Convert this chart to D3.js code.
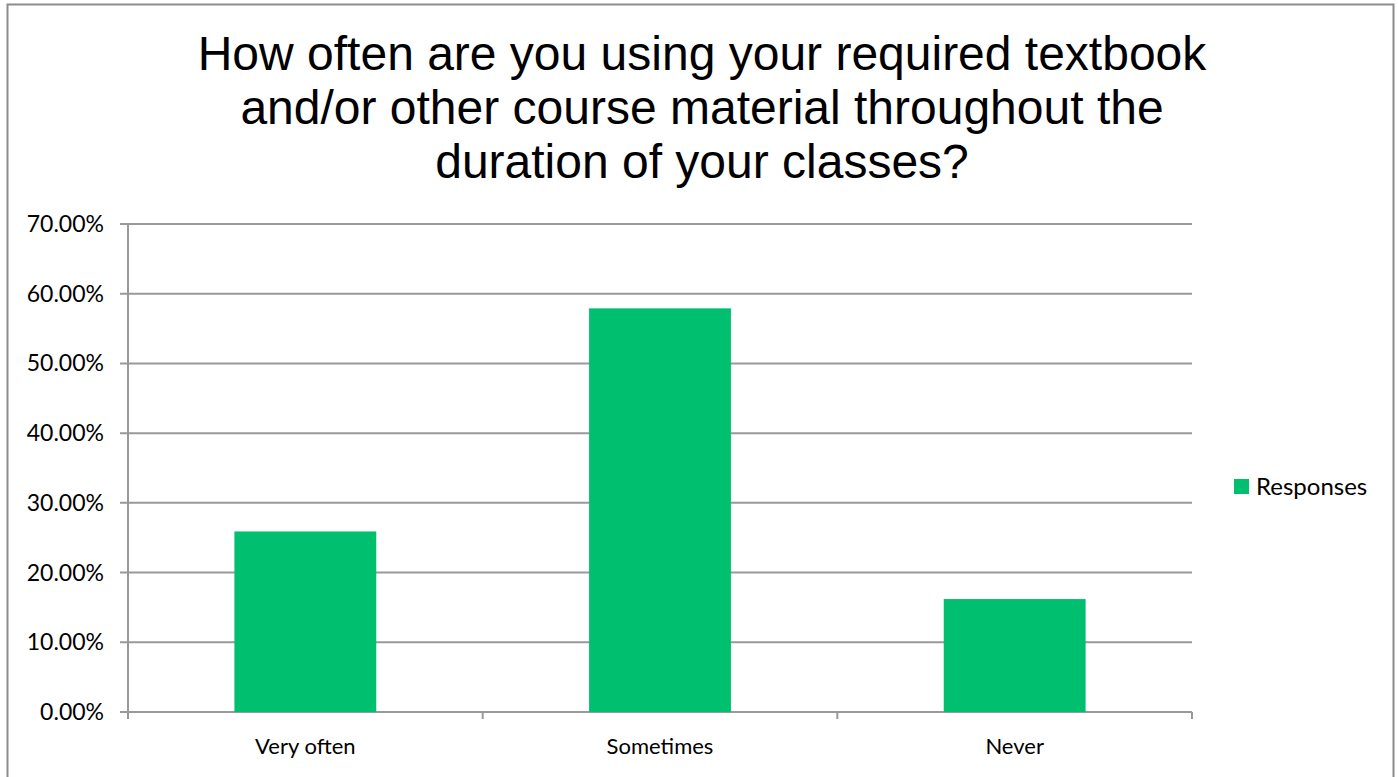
<!DOCTYPE html>
<html>
<head>
<meta charset="utf-8">
<script src="https://cdn.jsdelivr.net/npm/d3@7"></script>
<style>
  body { margin: 0; background: #fff; }
  svg { display: block; }
</style>
</head>
<body>
<svg id="chart" width="1398" height="777"></svg>
<script>
const categories = ["Very often", "Sometimes", "Never"];
const responses = [25.9, 57.9, 16.2];
const yTicks = [0, 10, 20, 30, 40, 50, 60, 70];
const titleLines = [
  "How often are you using your required textbook",
  "and/or other course material throughout the",
  "duration of your classes?"
];
const seriesName = "Responses";

const svg = d3.select("#chart");
const plot = { left: 128, right: 1192, top: 224, bottom: 712 };
const labelFont = "Lato, 'Open Sans', sans-serif";

// outer chart border
svg.append("rect")
  .attr("x", 7.5).attr("y", 4.5)
  .attr("width", 1386).attr("height", 790)
  .attr("fill", "#fff")
  .attr("stroke", "#8c8c8c")
  .attr("stroke-width", 2);

// title
svg.append("g")
  .selectAll("text")
  .data(titleLines)
  .join("text")
  .attr("x", 702)
  .attr("y", (d, i) => 70 + i * 54)
  .attr("text-anchor", "middle")
  .attr("font-family", "'Liberation Sans', Arial, sans-serif")
  .attr("font-size", 48)
  .attr("fill", "#000")
  .text(d => d);

const x = d3.scaleBand()
  .domain(categories)
  .range([plot.left, plot.right])
  .paddingInner(0.6)
  .paddingOuter(0.3);

const y = d3.scaleLinear()
  .domain([0, 70])
  .range([plot.bottom, plot.top]);

// gridlines
svg.append("g")
  .selectAll("line")
  .data(yTicks)
  .join("line")
  .attr("x1", plot.left - 8)
  .attr("x2", plot.right)
  .attr("y1", d => y(d))
  .attr("y2", d => y(d))
  .attr("stroke", "#999")
  .attr("stroke-width", 2);

// y axis labels
svg.append("g")
  .selectAll("text")
  .data(yTicks)
  .join("text")
  .attr("x", 104)
  .attr("y", d => y(d))
  .attr("dy", "0.35em")
  .attr("text-anchor", "end")
  .attr("font-family", labelFont)
  .attr("font-size", 23)
  .attr("fill", "#000")
  .text(d => d.toFixed(2) + "%");

// y axis line
svg.append("line")
  .attr("x1", plot.left).attr("x2", plot.left)
  .attr("y1", plot.top).attr("y2", plot.bottom + 7)
  .attr("stroke", "#999")
  .attr("stroke-width", 2);

// x category ticks
const step = (plot.right - plot.left) / categories.length;
svg.append("g")
  .selectAll("line")
  .data(d3.range(categories.length + 1))
  .join("line")
  .attr("x1", i => plot.left + i * step)
  .attr("x2", i => plot.left + i * step)
  .attr("y1", plot.bottom)
  .attr("y2", plot.bottom + 7)
  .attr("stroke", "#999")
  .attr("stroke-width", 2);

// bars
svg.append("g")
  .selectAll("rect")
  .data(responses)
  .join("rect")
  .attr("x", (d, i) => x(categories[i]))
  .attr("y", d => y(d))
  .attr("width", x.bandwidth())
  .attr("height", d => plot.bottom - y(d))
  .attr("fill", "#00bf6f");

// x axis labels
svg.append("g")
  .selectAll("text")
  .data(categories)
  .join("text")
  .attr("x", d => x(d) + x.bandwidth() / 2)
  .attr("y", 746)
  .attr("dy", "0.35em")
  .attr("text-anchor", "middle")
  .attr("font-family", labelFont)
  .attr("font-size", 22)
  .attr("fill", "#000")
  .text(d => d);

// legend
const legend = svg.append("g").attr("transform", "translate(1234,479)");
legend.append("rect")
  .attr("width", 15).attr("height", 15)
  .attr("fill", "#00bf6f");
legend.append("text")
  .attr("x", 22).attr("y", 7.5)
  .attr("dy", "0.35em")
  .attr("font-family", labelFont)
  .attr("font-size", 24)
  .attr("fill", "#000")
  .text(seriesName);
</script>
</body>
</html>
